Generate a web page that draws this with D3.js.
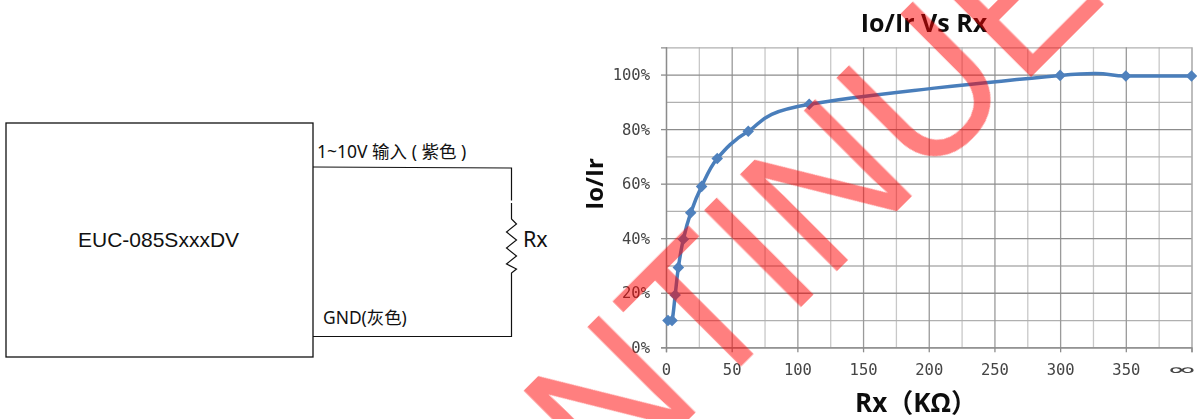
<!DOCTYPE html>
<html>
<head>
<meta charset="utf-8">
<script src="https://cdn.jsdelivr.net/npm/d3@7"></script>
<style>
body { margin: 0; background: #fff; overflow: hidden; }
svg { display: block; }
</style>
</head>
<body>
<svg width="1197" height="419"></svg>
<script>
// values
var rxValues = [1.5, 4.6, 7, 9.4, 13.2, 18.8, 27.1, 39, 62.6, 109, 300, 350, 400];
var ratioValues = [9.8, 9.8, 19.2, 29.3, 39.6, 49.3, 59, 69.2, 79.2, 89.1, 99.7, 99.5, 99.5];

var xMajorTicks = [0, 50, 100, 150, 200, 250, 300, 350, 400];
var xMinorTicks = [25, 75, 125, 175, 225, 275, 325, 375];
var xTickLabels = ["0", "50", "100", "150", "200", "250", "300", "350", "∞"];
var yMajorTicks = [0, 20, 40, 60, 80, 100];
var yMinorTicks = [10, 30, 50, 70, 90, 110];

var chartTitle = "Io/Ir Vs Rx";
var xTitle = "Rx（KΩ）";
var yTitle = "Io/Ir";
var watermarkText = "DISCONTINUED";

var svg = d3.select("svg");
var tickFont = "'DejaVu Sans Mono', monospace";
var titleFont = "'Open Sans', 'Noto Sans', sans-serif";
var cjkFont = "'Noto Sans', 'Noto Sans CJK SC', sans-serif";

// ---- wiring diagram on the left ----
var wire = d3.line();
var diagram = svg.append("g").attr("fill", "none").attr("stroke", "#111");

diagram.append("rect")
    .attr("x", 6).attr("y", 123).attr("width", 307).attr("height", 234)
    .attr("stroke-width", 1.3);

diagram.append("path")
    .attr("stroke-width", 1.2)
    .attr("d", wire([[313, 167], [511.5, 168], [511.5, 200.5]]));

diagram.append("path")
    .attr("stroke-width", 1.2)
    .attr("d", wire([[511.5, 203], [511.5, 219], [516.5, 224], [506.5, 232], [516.5, 240],
        [506.5, 248], [516.5, 256], [506.5, 264], [516.5, 269], [511.5, 273],
        [511.5, 336.5], [313, 336.5]]));

var labels = [
    { text: "EUC-085SxxxDV", x: 78, y: 247, size: 21, font: "'Liberation Sans', sans-serif" },
    { text: "1~10V 输入 ( 紫色 )", x: 317, y: 157.5, size: 17.5, font: cjkFont },
    { text: "GND(灰色)", x: 323, y: 324, size: 17.4, font: cjkFont },
    { text: "Rx", x: 523, y: 247, size: 21.5, font: cjkFont }
];

svg.append("g").selectAll("text")
    .data(labels)
    .enter()
    .append("text")
    .attr("x", function(d){return d.x;})
    .attr("y", function(d){return d.y;})
    .style("font-size", function(d){return d.size + "px";})
    .style("font-family", function(d){return d.font;})
    .style("fill", "#111")
    .text(function(d){return d.text;});

// ---- Io/Ir chart on the right ----
var x = d3.scaleLinear().domain([0, 400]).range([666, 1191.5]);
var y = d3.scaleLinear().domain([0, 110]).range([347.3, 47.3]);
var plotTop = y(110), plotBottom = y(0), plotLeft = x(0), plotRight = x(400);

var defs = svg.append("defs");
defs.append("filter").attr("id", "soft")
    .attr("x", "-5%").attr("y", "-5%").attr("width", "110%").attr("height", "110%")
    .append("feGaussianBlur").attr("stdDeviation", 0.35);

var chart = svg.append("g").attr("filter", "url(#soft)");

var drawGrid = function(axis, tx, ty, color) {
    var g = chart.append("g").attr("transform", "translate(" + tx + "," + ty + ")").call(axis);
    g.select(".domain").remove();
    g.selectAll("line").attr("stroke", color).attr("stroke-width", 1.3);
    g.selectAll("text").remove();
}

drawGrid(d3.axisBottom(x).tickValues(xMinorTicks).tickSize(plotTop - plotBottom), 0, plotBottom, "#c8c8c8");
drawGrid(d3.axisLeft(y).tickValues(yMinorTicks).tickSize(plotLeft - plotRight), plotLeft, 0, "#b0b0b0");
drawGrid(d3.axisBottom(x).tickValues(xMajorTicks).tickSize(plotTop - plotBottom), 0, plotBottom, "#9a9a9a");
drawGrid(d3.axisLeft(y).tickValues(yMajorTicks).tickSize(plotLeft - plotRight), plotLeft, 0, "#8c8c8c");

var xAxis = chart.append("g")
    .attr("transform", "translate(0," + plotBottom + ")")
    .call(d3.axisBottom(x).tickValues(xMajorTicks).tickSize(5).tickPadding(12)
        .tickFormat(function(d, i){return xTickLabels[i];}));

var yAxis = chart.append("g")
    .attr("transform", "translate(" + plotLeft + ",0)")
    .call(d3.axisLeft(y).tickValues(yMajorTicks).tickSize(5).tickPadding(11)
        .tickFormat(function(d){return d + "%";}));

[xAxis, yAxis].forEach(function(a) {
    a.select(".domain").attr("stroke", "#8c8c8c").attr("stroke-width", 1.3);
    a.selectAll("line").attr("stroke", "#8c8c8c").attr("stroke-width", 1.3);
    a.selectAll("text")
        .style("font-family", tickFont)
        .style("font-size", "15.5px")
        .style("fill", "#444");
});

// the infinity label sits left of its tick, drawn wide
xAxis.selectAll("text")
    .filter(function(d){return d === 400;})
    .attr("dx", -10)
    .attr("textLength", 25)
    .attr("lengthAdjust", "spacingAndGlyphs");

var points = rxValues.map(function(r, i){return { rx: r, ratio: ratioValues[i] };});

var line = d3.line()
    .x(function(d){return x(d.rx);})
    .y(function(d){return y(d.ratio);})
    .curve(d3.curveCatmullRom.alpha(0));

chart.append("path")
    .datum(points)
    .attr("fill", "none")
    .attr("stroke", "#4a7ebb")
    .attr("stroke-width", 3.5)
    .attr("d", line);

chart.selectAll(".marker")
    .data(points)
    .enter()
    .append("path")
    .attr("class", "marker")
    .attr("d", d3.symbol().type(d3.symbolDiamond2).size(85))
    .attr("transform", function(d){return "translate(" + x(d.rx) + "," + y(d.ratio) + ")";})
    .attr("fill", "#4f81bd");

chart.append("text")
    .attr("x", 924).attr("y", 32)
    .attr("text-anchor", "middle")
    .style("font-family", titleFont).style("font-weight", 700).style("font-size", "25px")
    .style("fill", "#111")
    .text(chartTitle);

chart.append("text")
    .attr("x", 916).attr("y", 412)
    .attr("text-anchor", "middle")
    .style("font-family", "'Open Sans', 'Noto Sans CJK SC', sans-serif")
    .style("font-weight", 700).style("font-size", "26px")
    .style("fill", "#111")
    .text(xTitle);

chart.append("text")
    .attr("transform", "translate(603,184) rotate(-90)")
    .attr("text-anchor", "middle")
    .style("font-family", titleFont).style("font-weight", 700).style("font-size", "24px")
    .style("fill", "#111")
    .text(yTitle);

// ---- watermark over everything ----
svg.append("text")
    .attr("transform", "translate(184,924) rotate(-45) scale(1,1.045)")
    .style("font-family", "'Liberation Sans', sans-serif")
    .style("font-size", "190px")
    .style("fill", "#ff0000")
    .style("fill-opacity", 0.5)
    .text(watermarkText);
</script>
</body>
</html>
